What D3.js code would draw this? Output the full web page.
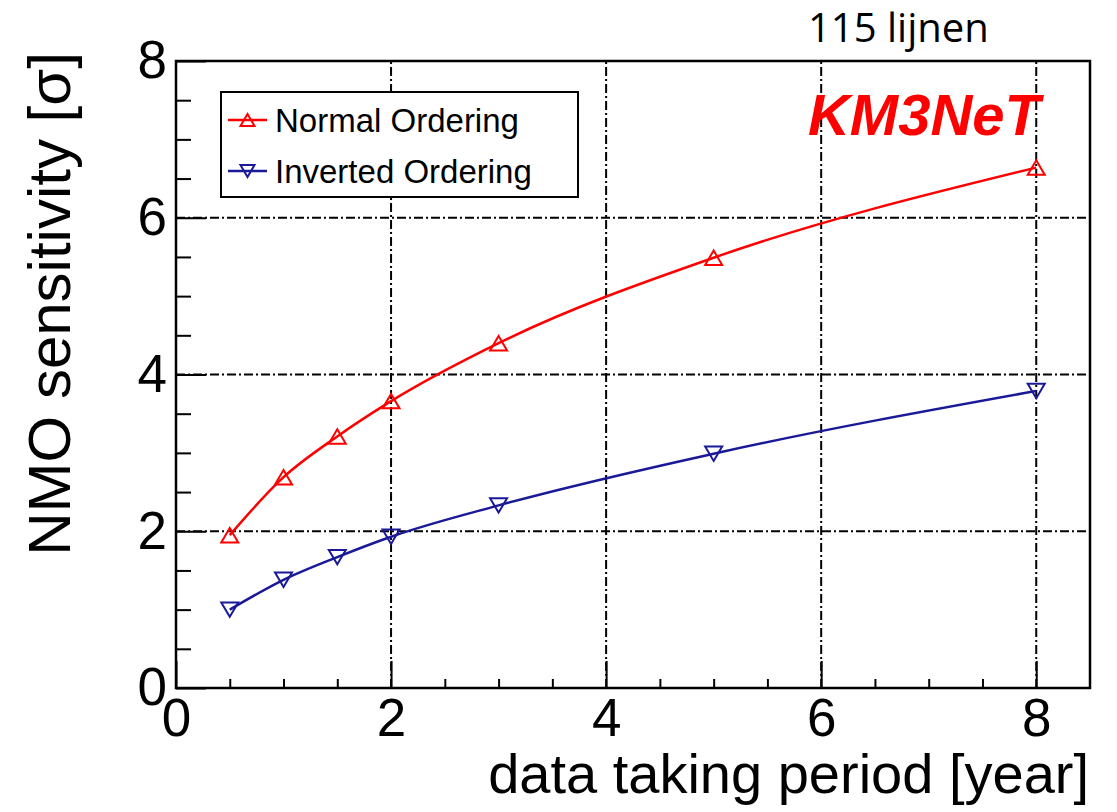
<!DOCTYPE html>
<html>
<head>
<meta charset="utf-8">
<script src="https://cdn.jsdelivr.net/npm/d3@7"></script>
<style>
  html, body { margin: 0; padding: 0; background: #ffffff; }
  svg { display: block; }
</style>
</head>
<body>
<svg id="chart" width="1117" height="812"></svg>
<script>
// ---- data ----
const years = [0.5, 1, 1.5, 2, 3, 5, 8];
const normalOrdering = [1.95, 2.69, 3.21, 3.66, 4.40, 5.49, 6.64];
const invertedOrdering = [1.00, 1.38, 1.67, 1.93, 2.33, 2.99, 3.79];
const seriesNames = ["Normal Ordering", "Inverted Ordering"];
const xMajorTicks = [0, 2, 4, 6, 8];
const yMajorTicks = [0, 2, 4, 6, 8];
const xMinorTicks = [0.5, 1, 1.5, 2.5, 3, 3.5, 4.5, 5, 5.5, 6.5, 7, 7.5];
const yMinorTicks = [0.5, 1, 1.5, 2.5, 3, 3.5, 4.5, 5, 5.5, 6.5, 7, 7.5];
const xGridTicks = [2, 4, 6, 8];
const yGridTicks = [2, 4, 6];
const xTitle = "data taking period [year]";
const yTitle = "NMO sensitivity [σ]";
const brandLabel = "KM3NeT";
const noteLabel = "115 lijnen";

// ---- layout ----
const L = 176, R = 1090, T = 61, B = 688;
const svg = d3.select("#chart");
const font = "'Liberation Sans', Arial, Helvetica, sans-serif";

const x = d3.scaleLinear().domain([0, 8.5]).range([L, R]);
const y = d3.scaleLinear().domain([0, 8]).range([B, T]);

// grid lines
const grid = svg.append("g").attr("stroke", "#000").attr("stroke-width", 2)
  .attr("stroke-dasharray", "9,3,2,3");
grid.selectAll("line.gx").data(xGridTicks).join("line")
  .attr("x1", d => x(d)).attr("x2", d => x(d)).attr("y1", B).attr("y2", T);
grid.selectAll("line.gy").data(yGridTicks).join("line")
  .attr("x1", L).attr("x2", R).attr("y1", d => y(d)).attr("y2", d => y(d));

// axes
function styleAxis(g) {
  g.select(".domain").remove();
  g.selectAll(".tick line").attr("stroke", "#000").attr("stroke-width", 2);
  g.selectAll(".tick text").attr("fill", "#000").attr("font-family", font).attr("font-size", 53);
}
svg.append("g").attr("transform", `translate(0,${B})`)
  .call(d3.axisBottom(x).tickValues(xMajorTicks).tickFormat(d3.format("d"))
    .tickSizeInner(-27).tickSizeOuter(0).tickPadding(10))
  .call(styleAxis);
svg.append("g").attr("transform", `translate(0,${B})`)
  .call(d3.axisBottom(x).tickValues(xMinorTicks).tickFormat("")
    .tickSizeInner(-9).tickSizeOuter(0))
  .call(styleAxis);
svg.append("g").attr("transform", `translate(${L},0)`)
  .call(d3.axisLeft(y).tickValues(yMajorTicks).tickFormat(d3.format("d"))
    .tickSizeInner(-30).tickSizeOuter(0).tickPadding(9))
  .call(styleAxis);
svg.append("g").attr("transform", `translate(${L},0)`)
  .call(d3.axisLeft(y).tickValues(yMinorTicks).tickFormat("")
    .tickSizeInner(-15).tickSizeOuter(0))
  .call(styleAxis);

// frame
svg.append("rect").attr("x", L).attr("y", T).attr("width", R - L).attr("height", B - T)
  .attr("fill", "none").attr("stroke", "#000").attr("stroke-width", 2.5);

// series
const series = [
  { name: seriesNames[0], values: normalOrdering, color: "#ff0000", up: true },
  { name: seriesNames[1], values: invertedOrdering, color: "#1a1a99", up: false }
];
const line = d3.line().x(d => x(d[0])).y(d => y(d[1])).curve(d3.curveMonotoneX);
function triPath(cx, cy, up, s) {
  const h = s * 0.85;
  if (up) return `M${cx},${cy - h / 2}L${cx + s / 2},${cy + h / 2}L${cx - s / 2},${cy + h / 2}Z`;
  return `M${cx},${cy + h / 2}L${cx + s / 2},${cy - h / 2}L${cx - s / 2},${cy - h / 2}Z`;
}
series.forEach(s => {
  const pts = years.map((yr, i) => [yr, s.values[i]]);
  svg.append("path").datum(pts).attr("d", line)
    .attr("fill", "none").attr("stroke", s.color).attr("stroke-width", 2.5);
  svg.append("g").selectAll("path").data(pts).join("path")
    .attr("d", d => triPath(x(d[0]), y(d[1]), s.up, 17))
    .attr("fill", "none").attr("stroke", s.color).attr("stroke-width", 2);
});

// legend
const lg = svg.append("g");
lg.append("rect").attr("x", 221).attr("y", 92).attr("width", 357).attr("height", 105)
  .attr("fill", "#fff").attr("stroke", "#000").attr("stroke-width", 2);
series.forEach((s, i) => {
  const cy = 120 + i * 51;
  lg.append("line").attr("x1", 228).attr("x2", 267).attr("y1", cy).attr("y2", cy)
    .attr("stroke", s.color).attr("stroke-width", 2.5);
  lg.append("path").attr("d", triPath(247.5, cy, s.up, 14))
    .attr("fill", "none").attr("stroke", s.color).attr("stroke-width", 2);
  lg.append("text").attr("x", 275).attr("y", cy).attr("dy", "0.35em")
    .attr("font-family", font).attr("font-size", 33).attr("fill", "#000").text(s.name);
});

// brand
svg.append("text").attr("x", 1040).attr("y", 135).attr("text-anchor", "end")
  .attr("font-family", font).attr("font-weight", "bold").attr("font-style", "italic")
  .attr("font-size", 58).attr("fill", "#ff0000").text(brandLabel);

// titles
svg.append("text").attr("x", 1089).attr("y", 793).attr("text-anchor", "end")
  .attr("font-family", font).attr("font-size", 56).attr("fill", "#000").text(xTitle);
svg.append("text").attr("transform", "translate(70,52) rotate(-90)").attr("text-anchor", "end")
  .attr("font-family", font).attr("font-size", 60).attr("fill", "#000").text(yTitle);

// note
svg.append("text").attr("x", 808).attr("y", 42)
  .attr("font-family", "'Open Sans', 'Noto Sans', sans-serif").attr("font-size", 40)
  .attr("fill", "#000").text(noteLabel);
</script>
</body>
</html>
